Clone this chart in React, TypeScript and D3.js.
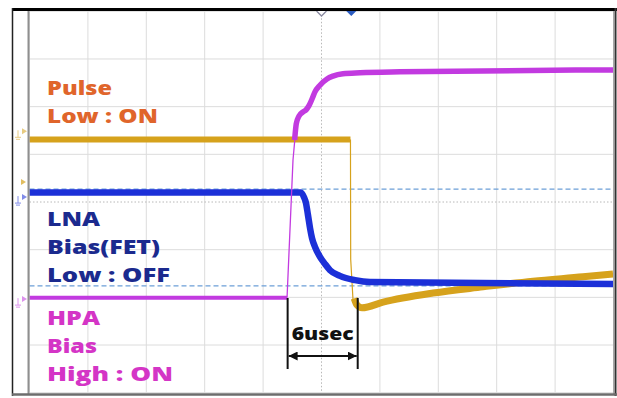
import React from 'react'
import * as d3 from 'd3'

// scope screen: 10 div x 8 div, 5 usec/div, values in divisions
const timeTicks = [-25, -20, -15, -10, -5, 0, 5, 10, 15, 20, 25]
const levelTicks = [-4, -3, -2, -1, 0, 1, 2, 3, 4]

// Pulse (gold): [usec, div]
const pulseHigh: [number, number][] = [[-25, 1.31], [2.48, 1.31]]
const pulseEdge: [number, number][] = [[2.48, 1.31], [2.5, -1.2], [2.7, -2.06]]
const pulseTail: [number, number][] = [
  [2.8, -2.02], [3.04, -2.16], [3.47, -2.22], [5.27, -2.1], [9.55, -1.91],
  [13.83, -1.78], [18.11, -1.66], [22.39, -1.57], [24.96, -1.51],
]

// LNA bias (blue)
const lnaTrace: [number, number][] = [
  [-25, 0.2], [-1.76, 0.2], [-1.5, 0.1], [-1.33, -0.02], [-1.16, -0.27],
  [-0.98, -0.55], [-0.81, -0.76], [-0.56, -0.94], [-0.13, -1.15], [0.3, -1.3],
  [0.73, -1.43], [1.58, -1.55], [2.87, -1.64], [4.15, -1.68], [24.96, -1.72],
]

// HPA bias (magenta)
const hpaLow: [number, number][] = [[-25, -2.01], [-2.95, -2.01]]
const hpaEdge: [number, number][] = [[-2.95, -2.01], [-2.44, 0.88], [-2.25, 1.4]]
const hpaHigh: [number, number][] = [
  [-2.3, 1.3], [-2.16, 1.64], [-1.93, 1.8], [-1.58, 1.89], [-1.33, 1.93],
  [-1.07, 2.02], [-0.81, 2.16], [-0.56, 2.31], [-0.13, 2.45], [0.47, 2.58],
  [0.98, 2.64], [1.84, 2.69], [3.3, 2.71], [6.72, 2.73], [24.96, 2.77],
]

const cursorLevels = [0.27, -1.76]
const channelOffsets = [1.42, 0.04, -2.1]
const measureStart = -2.9
const measureSpan = 6

const pulseLabel = ['Pulse', 'Low : ON']
const lnaLabel = ['LNA', 'Bias(FET)', 'Low : OFF']
const hpaLabel = ['HPA', 'Bias', 'High : ON']

const W = 617
const H = 398

export default function App() {
  const x = d3.scaleLinear().domain([-25, 25]).range([29.5, 613.5])
  const y = d3.scaleLinear().domain([-4, 4]).range([392.7, 11.3])

  const smooth = d3.line<[number, number]>()
    .x(d => x(d[0]))
    .y(d => y(d[1]))
    .curve(d3.curveMonotoneX)
  const straight = d3.line<[number, number]>()
    .x(d => x(d[0]))
    .y(d => y(d[1]))

  const gold = '#d6a21c'
  const blue = '#1c30d8'
  const mag = '#c23ae0'
  const font = '"Open Sans", "Noto Sans", sans-serif'

  const labelBlock = (lines: string[], widths: number[], top: number, color: string) =>
    lines.map((t, i) => (
      <text key={t} x={47} y={top + i * 28} fill={color} fontFamily={font} fontWeight={800}
        fontSize={19} textLength={widths[i]} lengthAdjust="spacingAndGlyphs">{t}</text>
    ))

  const x0 = x(measureStart)
  const x1 = x(measureStart + measureSpan)
  const ay = 356

  return (
    <svg width={W} height={H} style={{ position: 'absolute', left: 0, top: 0, background: '#fff' }}>
      <defs>
        <marker id="ah" viewBox="0 0 10 10" refX="10" refY="5" markerWidth="9" markerHeight="9"
          orient="auto-start-reverse" markerUnits="userSpaceOnUse">
          <path d="M0,0 L10,5 L0,10 z" fill="#111" />
        </marker>
      </defs>
      <rect x={0} y={0} width={W} height={H} fill="#fff" />

      {/* grid */}
      {timeTicks.map(t => (
        <line key={'v' + t} x1={x(t)} x2={x(t)} y1={y(4)} y2={y(-4)}
          stroke={t === 0 ? '#b8b8b8' : '#dcdcdc'} strokeDasharray={t === 0 ? '1.5,2' : undefined} />
      ))}
      {levelTicks.map(v => (
        <line key={'h' + v} x1={x(-25)} x2={x(25)} y1={y(v)} y2={y(v)}
          stroke={v === 0 ? '#b8b8b8' : '#dcdcdc'} strokeDasharray={v === 0 ? '1.5,2' : undefined} />
      ))}

      {/* cursors */}
      {cursorLevels.map(v => (
        <line key={'c' + v} x1={x(-25)} x2={x(25)} y1={y(v)} y2={y(v)}
          stroke="#6c9fd8" strokeWidth={1.2} strokeDasharray="5,3" />
      ))}

      {/* traces */}
      <path d={straight(pulseEdge) ?? ''} fill="none" stroke={gold} strokeWidth={1.2} />
      <path d={smooth(pulseHigh) ?? ''} fill="none" stroke={gold} strokeWidth={6} />
      <path d={smooth(pulseTail) ?? ''} fill="none" stroke={gold} strokeWidth={7} />
      <path d={smooth(lnaTrace) ?? ''} fill="none" stroke={blue} strokeWidth={6.5} />
      <path d={straight(hpaEdge) ?? ''} fill="none" stroke={mag} strokeWidth={1.3} />
      <path d={smooth(hpaLow) ?? ''} fill="none" stroke={mag} strokeWidth={4} />
      <path d={smooth(hpaHigh) ?? ''} fill="none" stroke={mag} strokeWidth={5.5} />

      {/* measurement */}
      <line x1={x0} x2={x0} y1={298} y2={369} stroke="#111" strokeWidth={2} />
      <line x1={x1} x2={x1} y1={298} y2={369} stroke="#111" strokeWidth={2} />
      <line x1={x0 + 1} x2={x1 - 1} y1={ay} y2={ay} stroke="#111" strokeWidth={2}
        markerStart="url(#ah)" markerEnd="url(#ah)" />
      <text x={(x0 + x1) / 2} y={340} textAnchor="middle" fontFamily={font} fontWeight={800}
        fontSize={18} fill="#111" textLength={62} lengthAdjust="spacingAndGlyphs">6usec</text>

      {/* labels */}
      {labelBlock(pulseLabel, [65, 111], 95, '#e0652b')}
      {labelBlock(lnaLabel, [53, 113, 123], 226, '#1b2a8e')}
      {labelBlock(hpaLabel, [53, 50, 126], 325, '#d435c6')}

      {/* channel markers */}
      {[gold, blue, mag].map((c, i) => {
        const cy = y(channelOffsets[i])
        return (
          <g key={c} opacity={0.55}>
            <path d={`M18,${cy - 4} L18,${cy + 3} M15,${cy + 3} L21,${cy + 3} M16,${cy + 5} L20,${cy + 5}`}
              stroke={c} strokeWidth={1} fill="none" />
            <path d={`M22,${cy - 6} L27,${cy - 3} L22,${cy} z`} fill={c} />
          </g>
        )
      })}
      <path d={`M21,${y(0.4) - 4} L26,${y(0.4) - 1} L21,${y(0.4) + 2} z`} fill={gold} opacity={0.7} />

      {/* trigger / cursor markers at top */}
      <path d={`M${x(0) - 5},11 L${x(0)},16 L${x(0) + 5},11`} fill="#fff" stroke="#8a8aa0" strokeWidth={1.3} />
      <path d={`M${x(2.55) - 6},10 L${x(2.55)},16 L${x(2.55) + 6},10 z`} fill="#2a5bc0" />

      {/* frame */}
      <line x1={28.5} x2={28.5} y1={11} y2={394} stroke="#8f8f8f" strokeWidth={2} />
      <line x1={613.5} x2={613.5} y1={11} y2={394} stroke="#a8a8a8" strokeWidth={1} />
      <line x1={12} x2={617} y1={9.5} y2={9.5} stroke="#000" strokeWidth={3} />
      <line x1={12.5} x2={12.5} y1={8} y2={396} stroke="#222" strokeWidth={1.5} />
      <line x1={615.5} x2={615.5} y1={8} y2={396} stroke="#333" strokeWidth={2} />
      <line x1={12} x2={617} y1={394.5} y2={394.5} stroke="#6d6d6d" strokeWidth={2.5} />
    </svg>
  )
}
